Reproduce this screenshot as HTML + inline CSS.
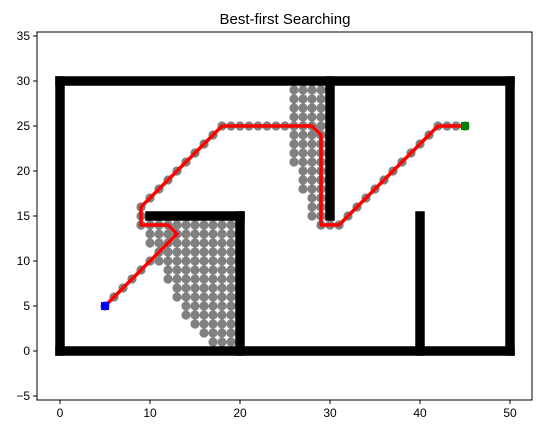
<!DOCTYPE html>
<html><head><meta charset="utf-8"><style>
body{margin:0;background:#fff;width:557px;height:431px;overflow:hidden}
svg{font-family:"Liberation Sans","DejaVu Sans",sans-serif}
</style></head><body>
<svg id="chart" width="557" height="431" viewBox="0 0 557 431">
<text x="285" y="24" text-anchor="middle" font-size="15">Best-first Searching</text>
<g id="explored"></g>
<g id="walls"></g>
<g id="path"></g>
<g id="axes"></g>
</svg>
<script>
const xTicks=[0,10,20,30,40,50];
const yTicks=[-5,0,5,10,15,20,25,30,35];
// wall segments [x1,y1,x2,y2]
const wallSegments=[[0,0,50,0],[0,30,50,30],[0,0,0,30],[50,0,50,30],[20,0,20,15],[10,15,20,15],[30,15,30,30],[40,0,40,15]];
// explored rows [y, xmin, xmax]
const exploredRows=[[14,9,19],[13,10,19],[12,10,19],[11,11,19],[10,11,19],[9,12,19],[8,12,19],[7,13,19],[6,13,19],[5,14,19],[4,14,19],[3,15,19],[2,16,19],[1,17,19],
[29,26,29],[28,26,29],[27,26,29],[26,26,29],[25,26,29],[24,26,29],[23,26,29],[22,26,29],[21,26,29],[20,27,29],[19,27,29],[18,27,29],[17,28,29],[16,28,29],[15,28,29],[14,29,31]];
const pathX=[5,6,7,8,9,10,11,12,13,12,11,10,9,9,9,10,11,12,13,14,15,16,17,18,19,20,21,22,23,24,25,26,27,28,29,29,29,29,29,29,29,29,29,29,29,30,31,32,33,34,35,36,37,38,39,40,41,42,43,44,45];
const pathY=[5,6,7,8,9,10,11,12,13,14,14,14,14,15,16,17,18,19,20,21,22,23,24,25,25,25,25,25,25,25,25,25,25,25,24,23,22,21,20,19,18,17,16,15,14,14,14,15,16,17,18,19,20,21,22,23,24,25,25,25,25];
const startPt=[5,5], goalPt=[45,25];

const X0=37,X1=532,Y0=32,Y1=400;
const sx=v=>60+9*v, sy=v=>351-9*v;
const NS="http://www.w3.org/2000/svg";
function mk(tag,parent,attrs){const e=document.createElementNS(NS,tag);for(const k in attrs)e.setAttribute(k,attrs[k]);parent.appendChild(e);return e;}

const gE=document.getElementById('explored');
exploredRows.forEach(r=>{for(let x=r[1];x<=r[2];x++){
  const c=mk('circle',gE,{cx:sx(x),cy:sy(r[0]),r:4.6,fill:'#808080'});
  
  
}});
pathX.forEach((x,i)=>{const c=mk('circle',gE,{cx:sx(x),cy:sy(pathY[i]),r:4.6,fill:'#808080'});
  
  });

const gW=document.getElementById('walls');
wallSegments.forEach(s=>{
  const l=mk('line',gW,{x1:sx(s[0]),y1:sy(s[1]),x2:sx(s[2]),y2:sy(s[3]),stroke:'#000','stroke-width':9.5,'stroke-linecap':'square'});
  
  
});

const gP=document.getElementById('path');
const pl=mk('polyline',gP,{points:pathX.map((x,i)=>sx(x)+','+sy(pathY[i])).join(' '),fill:'none',stroke:'#ff0000','stroke-width':3.5,'stroke-linejoin':'round'});


const s=mk('rect',gP,{x:sx(startPt[0])-4,y:sy(startPt[1])-4,width:8,height:8,fill:'#0000ff'});


const g=mk('rect',gP,{x:sx(goalPt[0])-4,y:sy(goalPt[1])-4,width:8,height:8,fill:'#008000'});



const gA=document.getElementById('axes');
const fr=mk('rect',gA,{x:X0,y:Y0,width:X1-X0,height:Y1-Y0,fill:'none',stroke:'#000','stroke-width':1});


xTicks.forEach(t=>{
  mk('line',gA,{x1:sx(t),x2:sx(t),y1:Y1,y2:Y1+4,stroke:'#000'});
  const tx=mk('text',gA,{x:sx(t),y:Y1+17,'text-anchor':'middle','font-size':12});
  tx.textContent=t;
  
  
});
yTicks.forEach(t=>{
  mk('line',gA,{x1:X0-4,x2:X0,y1:sy(t),y2:sy(t),stroke:'#000'});
  const tx=mk('text',gA,{x:X0-7,y:sy(t)+4,'text-anchor':'end','font-size':12});
  tx.textContent=t<0?'\u2212'+(-t):t;
  
  
});
</script>
</body></html>
